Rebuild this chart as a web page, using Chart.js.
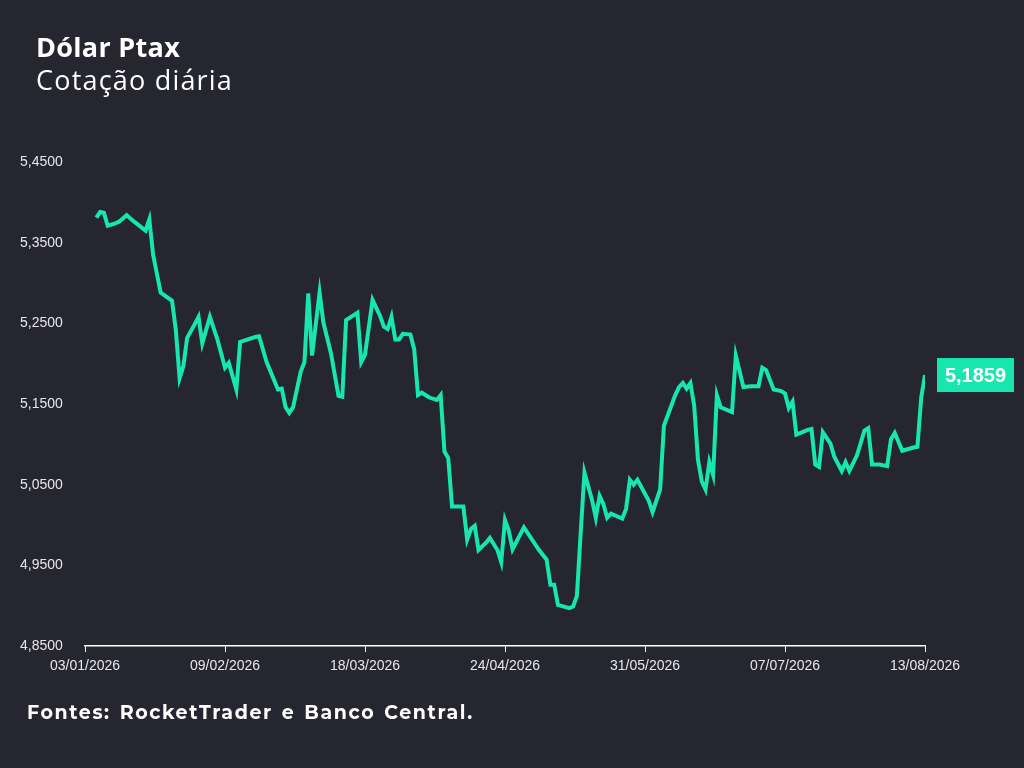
<!DOCTYPE html>
<html>
<head>
<meta charset="utf-8">
<script src="https://cdn.jsdelivr.net/npm/chart.js@4"></script>
<style>
  html, body { margin: 0; padding: 0; background: #262631; }
  #wrap { position: relative; width: 1024px; height: 768px; }
  #chart { position: absolute; left: 0; top: 0; }
  .txt { position: absolute; color: #fff; font-family: "Open Sans", sans-serif; white-space: nowrap; }
  #title { left: 36px; top: 28px; font-size: 27px; font-weight: 700; letter-spacing: 0.3px; }
  #sub { left: 36px; top: 61px; font-size: 27px; font-weight: 400; letter-spacing: 1.2px; }
  #src { left: 27px; top: 701px; font-size: 19px; font-weight: 700; font-family: Montserrat, "Open Sans", sans-serif; letter-spacing: 1.6px; word-spacing: 2px; }
</style>
</head>
<body>
<div id="wrap">
  <canvas id="chart" width="1024" height="768"></canvas>
  <div class="txt" id="title">Dólar Ptax</div>
  <div class="txt" id="sub">Cotação diária</div>
  <div class="txt" id="src">Fontes: RocketTrader e Banco Central.</div>
</div>
<script>
// dias desde 03/01/2026
const dias = [3,4,5,6,8,9,11,13,16,17,18,20,23,24,25,26,27,29,30,31,33,35,37,38,40,41,45,46,48,51,52,53,54,55,57,58,59,60,62,63,65,67,68,69,72,73,74,76,78,79,80,81,82,83,84,86,87,88,89,91,93,94,95,96,97,100,101,102,103,104,106,107,109,110,111,112,113,116,120,122,123,124,125,128,129,130,131,132,134,135,136,137,138,139,142,143,144,145,146,149,150,152,153,156,157,158,159,160,161,162,163,164,165,166,167,168,171,172,174,176,178,179,180,182,184,185,186,187,188,191,192,193,194,195,197,198,200,201,202,204,206,207,208,210,212,213,214,216,219,220,221,222];
const cotacao = [5.381,5.388,5.387,5.371,5.374,5.376,5.384,5.376,5.365,5.379,5.335,5.288,5.278,5.242,5.182,5.197,5.232,5.249,5.258,5.225,5.258,5.230,5.195,5.201,5.168,5.227,5.233,5.234,5.202,5.168,5.169,5.146,5.139,5.146,5.190,5.202,5.287,5.210,5.288,5.251,5.213,5.160,5.159,5.254,5.263,5.202,5.211,5.279,5.259,5.246,5.243,5.258,5.230,5.230,5.237,5.236,5.218,5.161,5.164,5.158,5.155,5.161,5.091,5.083,5.023,5.023,4.982,4.995,4.999,4.969,4.978,4.984,4.969,4.954,5.006,4.993,4.970,4.997,4.969,4.957,4.926,4.926,4.901,4.897,4.899,4.912,4.990,5.065,5.031,5.009,5.036,5.026,5.009,5.014,5.008,5.020,5.056,5.050,5.056,5.030,5.016,5.044,5.123,5.161,5.171,5.176,5.169,5.176,5.148,5.081,5.054,5.044,5.078,5.062,5.161,5.146,5.140,5.210,5.171,5.172,5.172,5.195,5.192,5.168,5.166,5.163,5.145,5.153,5.112,5.118,5.119,5.075,5.072,5.115,5.101,5.085,5.067,5.078,5.067,5.086,5.117,5.120,5.075,5.075,5.073,5.106,5.114,5.092,5.096,5.097,5.158,5.1859];
const xTicks = [0,37,74,111,148,185,222];
const yTicks = [4.85,4.95,5.05,5.15,5.25,5.35,5.45];

const verde = '#17e6ae';
const inicio = Date.UTC(2026, 0, 3);
function fmtData(d) {
  const dt = new Date(inicio + d * 86400000);
  const dd = String(dt.getUTCDate()).padStart(2, '0');
  const mm = String(dt.getUTCMonth() + 1).padStart(2, '0');
  return dd + '/' + mm + '/' + dt.getUTCFullYear();
}

// etiqueta do último valor
const ultimoValor = {
  id: 'ultimoValor',
  afterDatasetsDraw(chart) {
    const meta = chart.getDatasetMeta(0);
    const p = meta.data[meta.data.length - 1];
    const c = chart.ctx;
    const txt = cotacao[cotacao.length - 1].toFixed(4).replace('.', ',');
    c.save();
    c.fillStyle = verde;
    c.fillRect(p.x + 12, p.y - 17, 77, 34);
    c.fillStyle = '#fff';
    c.font = 'bold 20px "Liberation Sans", Arial, sans-serif';
    c.textAlign = 'center';
    c.textBaseline = 'middle';
    c.fillText(txt, p.x + 50.5, p.y + 1);
    c.restore();
  }
};

new Chart(document.getElementById('chart'), {
  type: 'line',
  data: {
    datasets: [{
      data: dias.map((d, i) => ({ x: d, y: cotacao[i] })),
      borderColor: verde,
      borderWidth: 4,
      pointRadius: 0,
      tension: 0,
      fill: false
    }]
  },
  options: {
    responsive: false,
    animation: false,
    layout: { padding: { top: 162, bottom: 90, left: 20, right: 99 } },
    plugins: { legend: { display: false }, tooltip: { enabled: false } },
    scales: {
      x: {
        type: 'linear', min: 0, max: 222,
        afterBuildTicks: s => { s.ticks = xTicks.map(v => ({ value: v })); },
        afterFit: s => { s.height = 32; },
        grid: { display: true, drawOnChartArea: false, drawTicks: true, tickLength: 6, color: '#ffffff' },
        border: { color: '#ffffff', width: 1.5 },
        ticks: {
          color: '#e6e6e6', font: { size: 14, family: '"Liberation Sans", Arial' },
          maxRotation: 0, autoSkip: false, padding: 6,
          callback: v => fmtData(v)
        }
      },
      y: {
        min: 4.85, max: 5.45,
        afterBuildTicks: s => { s.ticks = yTicks.map(v => ({ value: v })); },
        afterFit: s => { s.width = 65; },
        grid: { display: false },
        border: { display: false },
        ticks: {
          color: '#e6e6e6', font: { size: 14, family: '"Liberation Sans", Arial' },
          crossAlign: 'far',
          callback: v => v.toFixed(4).replace('.', ',')
        }
      }
    }
  },
  plugins: [ultimoValor]
});
</script>
</body>
</html>
